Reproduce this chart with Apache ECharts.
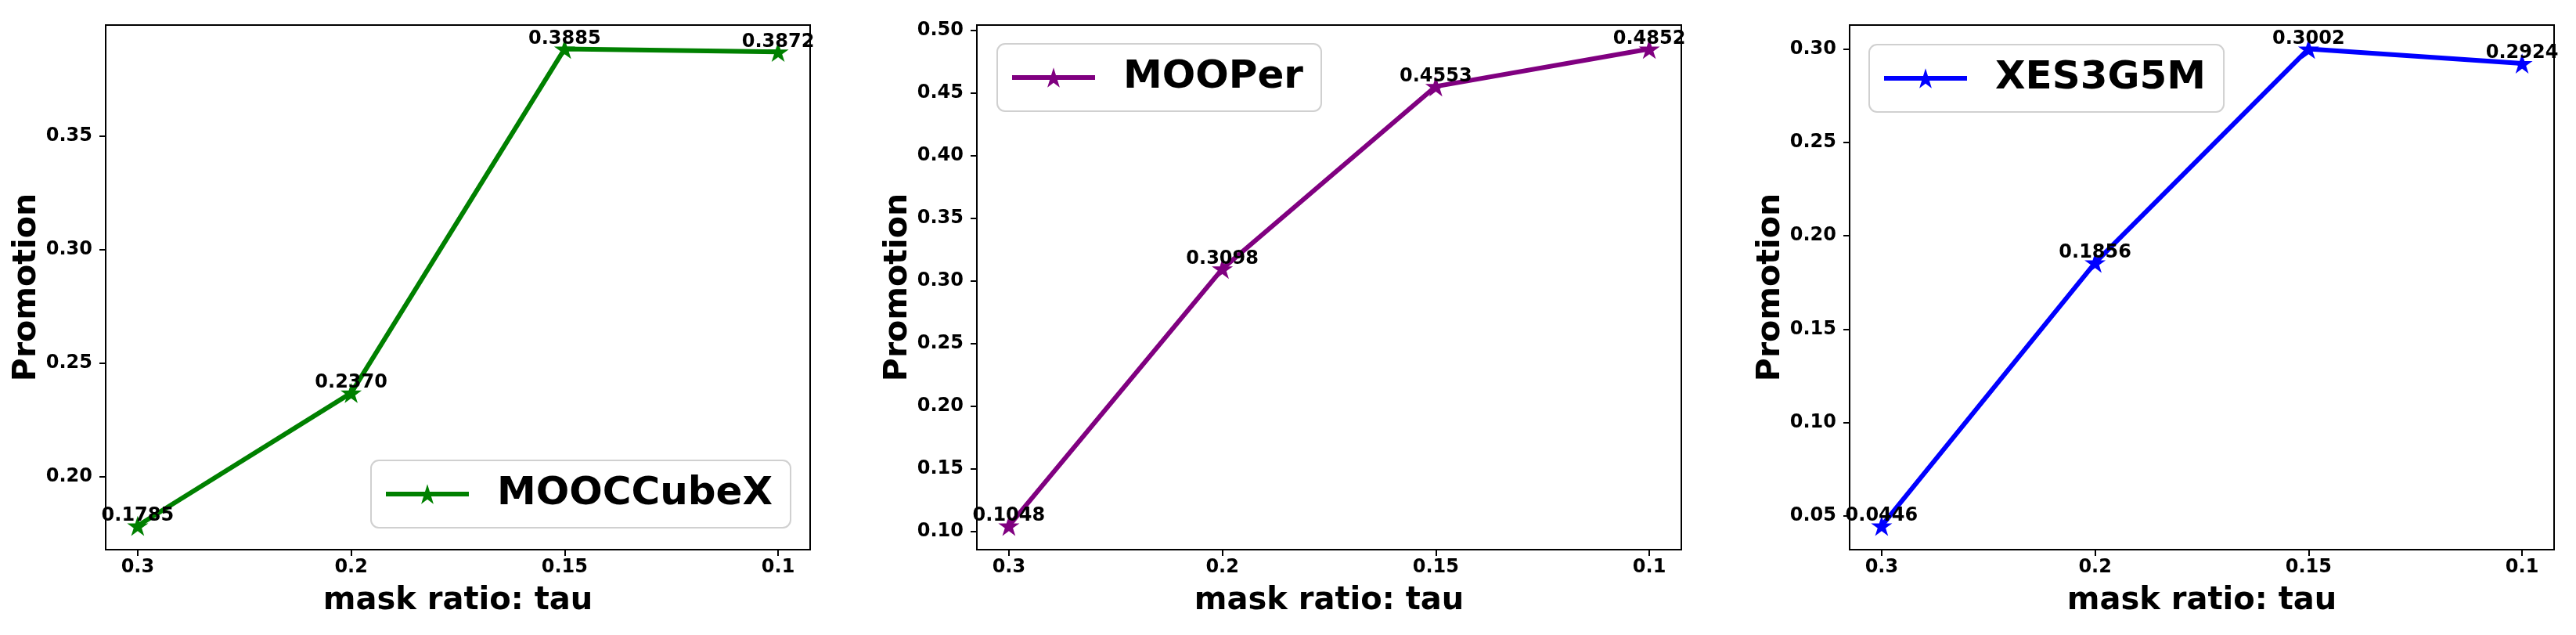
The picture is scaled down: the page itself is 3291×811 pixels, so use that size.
<!DOCTYPE html>
<html>
<head>
<meta charset="utf-8">
<script src="https://cdn.jsdelivr.net/npm/echarts@6/dist/echarts.min.js"></script>
<style>
html,body{margin:0;padding:0;background:#fff;}
#chart{width:3291px;height:811px;}
</style>
</head>
<body>
<div id="chart"></div>
<script>
// ---- data ----
const categories = ['0.3', '0.2', '0.15', '0.1'];
const seriesNames = ['MOOCCubeX', 'MOOPer', 'XES3G5M'];
const mooccubexValues = [0.1785, 0.2370, 0.3885, 0.3872];
const mooperValues = [0.1048, 0.3098, 0.4553, 0.4852];
const xes3g5mValues = [0.0446, 0.1856, 0.3002, 0.2924];
const yTicks1 = [0.20, 0.25, 0.30, 0.35];
const yTicks2 = [0.10, 0.15, 0.20, 0.25, 0.30, 0.35, 0.40, 0.45, 0.50];
const yTicks3 = [0.05, 0.10, 0.15, 0.20, 0.25, 0.30];
const xLabel = 'mask ratio: tau';
const yLabel = 'Promotion';

const allValues = [mooccubexValues, mooperValues, xes3g5mValues];
const allTicks = [yTicks1, yTicks2, yTicks3];
const colors = ['#008000', '#800080', '#0000ff'];

const FONT = 'DejaVu Sans';
const STAR = 'path://M50,0 L61.2,34.5 L97.6,34.5 L68.2,55.9 L79.4,90.5 L50,69.1 L20.6,90.5 L31.8,55.9 L2.4,34.5 L38.8,34.5 Z';

const gridLefts = [135, 1248, 2363];
const plotW = 900, plotTop = 32, plotH = 670;

const grids = [], xAxes = [], yAxes = [], series = [], legends = [];
const catIdx = categories.map((c, i) => i);
const n = categories.length - 1;

const legendPos = [
  {left: 474, top: 588},
  {left: 1274, top: 56},
  {left: 2388, top: 57}
];

const axisLineStyle = {show: true, onZero: false, lineStyle: {color: '#000', width: 2}};

for (let k = 0; k < 3; k++) {
  const vals = allValues[k];
  const vmin = Math.min(...vals), vmax = Math.max(...vals);
  const r = vmax - vmin;
  grids.push({
    left: gridLefts[k], top: plotTop, width: plotW, height: plotH,
    show: true, borderColor: '#000', borderWidth: 2, backgroundColor: 'transparent'
  });
  xAxes.push({
    type: 'value', gridIndex: k, min: -0.05 * n, max: n * 1.05, position: 'bottom',
    name: xLabel, nameLocation: 'middle', nameGap: 46,
    nameTextStyle: {fontFamily: FONT, fontWeight: 'bold', fontSize: 40, color: '#000'},
    axisLine: axisLineStyle,
    splitLine: {show: false},
    axisTick: {show: true, inside: false, customValues: catIdx, length: 8, lineStyle: {color: '#000', width: 2}},
    axisLabel: {
      customValues: catIdx, margin: 11,
      fontFamily: FONT, fontWeight: 'bold', fontSize: 24, color: '#000',
      formatter: v => categories[Math.round(v)]
    }
  });
  yAxes.push({
    type: 'value', gridIndex: k, min: vmin - 0.05 * r, max: vmax + 0.05 * r, position: 'left',
    name: yLabel, nameLocation: 'middle', nameGap: 71, nameRotate: 90,
    nameTextStyle: {fontFamily: FONT, fontWeight: 'bold', fontSize: 41, color: '#000'},
    axisLine: axisLineStyle,
    splitLine: {show: false},
    axisTick: {show: true, inside: false, customValues: allTicks[k], length: 8, lineStyle: {color: '#000', width: 2}},
    axisLabel: {
      customValues: allTicks[k], margin: 17,
      fontFamily: FONT, fontWeight: 'bold', fontSize: 24, color: '#000',
      formatter: v => v.toFixed(2)
    }
  });
  series.push({
    type: 'line', name: seriesNames[k], xAxisIndex: k, yAxisIndex: k,
    data: vals.map((v, i) => [i, v]),
    color: colors[k],
    lineStyle: {width: 6, color: colors[k]},
    itemStyle: {color: colors[k]},
    symbol: STAR, symbolSize: 27, symbolKeepAspect: true,
    label: {
      show: true, position: 'top', distance: -12,
      fontFamily: FONT, fontWeight: 'bold', fontSize: 24, color: '#000',
      formatter: p => p.value[1].toFixed(4)
    },
    labelLayout: {hideOverlap: false},
    animation: false
  });
  legends.push({
    data: [seriesNames[k]],
    left: legendPos[k].left, top: legendPos[k].top,
    orient: 'horizontal',
    padding: [18, 23, 18, 16],
    backgroundColor: 'rgba(255,255,255,0.8)',
    borderColor: '#d0d0d0', borderWidth: 2, borderRadius: 10,
    itemWidth: 106, itemHeight: 32,
    lineStyle: {width: 6, color: colors[k]},
    itemStyle: {color: colors[k]},
    textStyle: {fontFamily: FONT, fontWeight: 'bold', fontSize: 50, color: '#000', padding: [0, 0, 0, 31]},
    selectedMode: false
  });
}

const chart = echarts.init(document.getElementById('chart'), null, {renderer: 'canvas'});
chart.setOption({
  animation: false,
  backgroundColor: '#fff',
  grid: grids, xAxis: xAxes, yAxis: yAxes, series: series, legend: legends
});
</script>
</body>
</html>
